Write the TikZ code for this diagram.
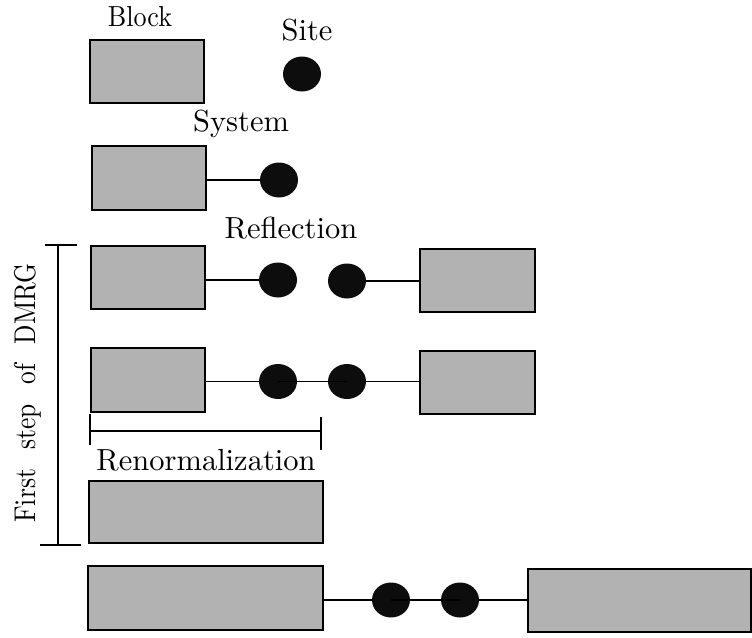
\documentclass[tikz,border=0pt]{standalone}
\usepackage{fontspec}
\usepackage{graphicx}
\newfontfamily\lmten{lmroman10-regular.otf}
\usetikzlibrary{shapes.geometric}
\begin{document}
\begin{tikzpicture}[x=1pt,y=-1pt,
  blk/.style={draw=black,line width=1.2pt,fill=gray!60,inner sep=0pt,rectangle},
  site/.style={ellipse,fill=black!95,draw=none,minimum width=38pt,minimum height=35pt,inner sep=0pt},
  lbl/.style={font=\lmten\fontsize{30.5}{36}\selectfont,anchor=base,inner sep=0pt},
  conn/.style={line width=1.2pt}]
\useasboundingbox (0,0) rectangle (752,637);
% labels
\node[lbl,font=\lmten\fontsize{29}{34}\selectfont] (tblock) at (140,26) {\scalebox{0.9}[1]{Block}};
\node[lbl] (tsite) at (307,40) {Site};
\node[lbl] (tsys) at (241,131) {System};
\node[lbl] (tref) at (291,238) {Reflection};
\node[lbl] (tren) at (206,470) {Renormalization};
\node[lbl,font=\lmten\fontsize{30}{34}\selectfont,rotate=90] (tdmrg) at (35,393)
  {\scalebox{0.85}[1]{First\hspace{23pt}step\hspace{23pt}of\hspace{23pt}DMRG}};
% row 1
\node[blk,minimum width=114pt,minimum height=63pt] (r1) at (147,71.5) {};
\node[site] (c1) at (302,74) {};
% row 2
\node[blk,minimum width=114pt,minimum height=64pt] (r2) at (149,178) {};
\node[site] (c2) at (279,180) {};
\draw[conn] (r2.east |- c2) -- (c2.west);
% row 3
\node[blk,minimum width=114pt,minimum height=63pt] (r3) at (148,277.5) {};
\node[site] (c3a) at (278,280) {};
\node[site] (c3b) at (347,281) {};
\node[blk,minimum width=115pt,minimum height=63pt] (r3b) at (477.5,280.5) {};
\draw[conn] (r3.east |- c3a) -- (c3a.west);
\draw[conn] (c3b.east) -- (r3b.west |- c3b);
% row 4
\node[blk,minimum width=114pt,minimum height=64pt] (r4) at (148,380) {};
\node[site] (c4a) at (278,381.5) {};
\node[site] (c4b) at (347,381.5) {};
\node[blk,minimum width=115pt,minimum height=63pt] (r4b) at (477.5,382.5) {};
\draw[conn] (r4.east |- c4a) -- (c4a.west);
\draw[conn] (c4b.east) -- (r4b.west |- c4b);
\draw[conn] (c4a.center) -- (c4b.center);
% bracket under row 4
\coordinate (bl) at (90,431);
\coordinate (br) at (321,431);
\draw[conn] (bl) -- (br);
\draw[conn] ([yshift=-14pt]bl) -- ([yshift=17pt]bl);
\draw[conn] ([yshift=-19pt]br) -- ([yshift=14pt]br);
% row 5
\node[blk,minimum width=234pt,minimum height=62pt] (r5) at (206,512) {};
% row 6
\node[blk,minimum width=235pt,minimum height=64pt] (r6) at (205.5,598) {};
\node[site] (c6a) at (391,600) {};
\node[site] (c6b) at (460,600) {};
\node[blk,minimum width=223pt,minimum height=63pt] (r6b) at (639.5,600.5) {};
\draw[conn] (r6.east |- c6a) -- (c6a.west);
\draw[conn] (c6b.east) -- (r6b.west |- c6b);
\draw[conn] (c6a.center) -- (c6b.center);
% vertical bracket
\coordinate (vt) at (58,245);
\coordinate (vb) at (58,545);
\draw[conn] (vt) -- (vb);
\draw[conn] ([xshift=-13pt]vt) -- ([xshift=19pt]vt);
\draw[conn] ([xshift=-18pt]vb) -- ([xshift=23pt]vb);
\end{tikzpicture}
\end{document}
